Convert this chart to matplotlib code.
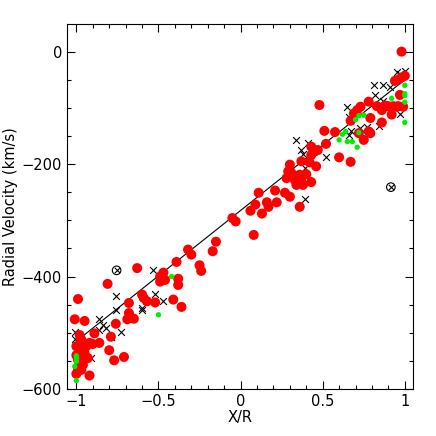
import matplotlib
matplotlib.use("Agg")
import matplotlib.pyplot as plt
import numpy as np
from matplotlib.ticker import MultipleLocator

# red points (X/R, velocity)
red_x = [0.98, 0.48, 1.0, 0.98, 0.96, 0.94, 0.97, 0.99, 0.90, 0.93, 0.96, 0.92,
         0.78, 0.83, 0.86, 0.79, 0.86, 0.78, 0.79, 0.73, 0.71, 0.69, 0.67, 0.72,
         0.75, 0.67, 0.60, 0.575, 0.51, 0.52, 0.43, 0.45, 0.43, 0.47, 0.42, 0.46,
         0.43, 0.37, 0.36, 0.37, 0.38, 0.335, 0.30, 0.29, 0.31, 0.28, 0.34, 0.30,
         0.27, 0.36, 0.21, 0.11, 0.16, 0.17, 0.22, 0.09, 0.06, 0.13, 0.08, -0.05,
         -0.03, -0.15, -0.17, -0.32, -0.30, -0.39, -0.25, -0.24, -0.38, -0.38,
         -0.41, -0.36, -0.47, -0.49, -0.49, -0.46, -0.63, -0.52, -0.57, -0.60,
         -0.59, -0.81, -0.76, -0.68, -0.68, -0.69, -0.65, -0.79, -0.80, -0.77,
         -0.71, -0.89, -0.86, -0.90, -0.92, -0.99, -1.01, -0.95, -0.98, -0.97,
         -0.97, -0.94, -1.0, -0.98, -0.95, -0.99, -0.93, -0.96, -0.99, -1.0,
         -0.97, -0.92, -1.0, -0.96, -0.98, 0.88, 0.95, 0.40, 0.33]
red_y = [0, -95, -43, -46, -50, -52, -77, -98, -97, -97, -97, -112,
         -89, -97, -104, -118, -126, -142, -145, -98, -104, -110, -123, -145,
         -157, -196, -188, -143, -141, -164, -169, -178, -184, -175, -197, -204,
         -232, -195, -219, -231, -237, -222, -201, -213, -216, -225, -237, -258,
         -251, -276, -247, -251, -268, -276, -268, -272, -283, -288, -326, -296,
         -302, -338, -355, -352, -361, -374, -380, -390, -404, -415,
         -441, -454, -393, -400, -409, -406, -385, -446, -444, -432,
         -438, -413, -484, -447, -465, -476, -475, -507, -531, -549,
         -543, -501, -518, -520, -518, -440, -476, -479, -504, -512,
         -518, -524, -524, -530, -536, -548, -545, -557, -565, -573,
         -566, -576, -540, -545, -555, -96, -98, -218, -228]

# crosses
cross_x = [1.0, 0.95, 0.97, 0.81, 0.87, 0.91, 0.82, 0.87, 0.97, 0.65, 0.66,
           0.73, 0.77, 0.84, 0.66, 0.67, 0.34, 0.41, 0.37, 0.38, 0.52, 0.39,
           0.39, -0.535, -0.52, -0.47, -0.60, -0.60, -0.76, -0.76, -0.86,
           -0.84, -0.86, -0.82, -0.79, -0.73, -1.01, -1.01, -0.91, -0.99]
cross_y = [-34, -37, -40, -59, -59, -63, -77, -88, -111, -98, -116,
           -136, -134, -133, -148, -142, -157, -163, -175, -182, -188, -207,
           -262, -389, -431, -444, -456, -460, -435, -459, -476,
           -486, -495, -492, -508, -499, -498, -511, -545, -524]

# green points
green_x = [1.0, 1.0, 1.0, 1.0, 1.0, 0.92, 0.75, 0.72, 0.70, 0.64, 0.62, 0.60,
           0.65, 0.68, 0.72, 0.71, -0.42, -0.50, -1.0, -1.0, -1.01, -1.0, -1.0]
green_y = [-60, -75, -78, -90, -126, -83, -113, -114, -121, -142, -147, -157,
           -160, -160, -144, -170, -400, -468, -541, -551, -560, -585, -545]

# circled crosses
odd_x = [-0.755, 0.915]
odd_y = [-389, -241]

# fitted line
fit_x = [-1.0, 1.0]
fit_y = [-515, -50]

fig = plt.figure(figsize=(4.36, 4.36), dpi=100)
ax = fig.add_axes([0.1537, 0.1078, 0.7936, 0.837])

ax.plot(fit_x, fit_y, color="black", lw=0.8, zorder=2)
ax.scatter(cross_x, cross_y, marker="x", s=24, color="black", linewidths=0.8, zorder=3)
ax.scatter(red_x, red_y, s=52, color="red", edgecolors="none", zorder=4)
ax.scatter(green_x, green_y, s=15, color="#00ee00", edgecolors="none", zorder=5)
ax.scatter(odd_x, odd_y, marker="o", s=38, facecolors="none", edgecolors="black", linewidths=0.8, zorder=5)
ax.scatter(odd_x, odd_y, marker="x", s=15, color="black", linewidths=0.8, zorder=5)

ax.set_xlim(-1.057, 1.05)
ax.set_ylim(-600, 49)
ax.xaxis.set_major_locator(MultipleLocator(0.5))
ax.xaxis.set_minor_locator(MultipleLocator(0.1))
ax.yaxis.set_major_locator(MultipleLocator(200))
ax.yaxis.set_minor_locator(MultipleLocator(50))
ax.tick_params(which="both", direction="in", top=True, right=True, labelsize=10.5)
ax.tick_params(which="major", length=6, width=0.8)
ax.tick_params(which="minor", length=3, width=0.8)
ax.set_xticks([-1, -0.5, 0, 0.5, 1])
ax.set_xticklabels(["\u22121", "\u22120.5", "0", "0.5", "1"])
ax.set_xlabel("X/R", fontsize=10.5, labelpad=1)
ax.set_ylabel("Radial Velocity (km/s)", fontsize=10.5, labelpad=3)

plt.savefig("out.png", dpi=100)
